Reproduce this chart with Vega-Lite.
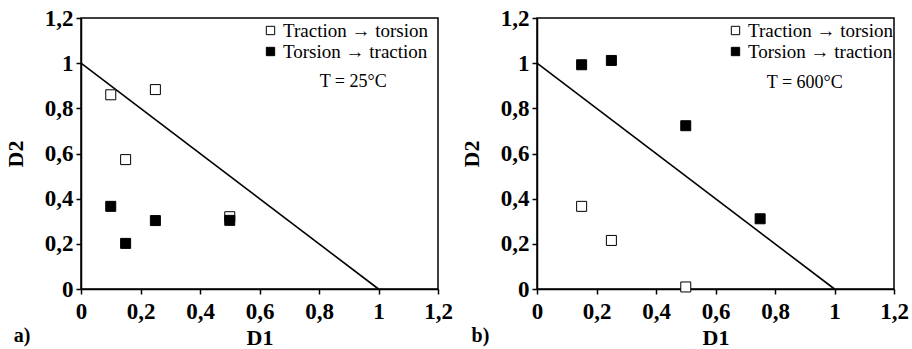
{
  "$schema": "https://vega.github.io/schema/vega-lite/v6.json",
  "background": "white",
  "padding": {"left": 3, "top": 6, "right": 0, "bottom": 0},
  "bounds": "flush",
  "spacing": 99,
  "config": {
    "font": "Liberation Serif",
    "view": {"stroke": "black", "strokeWidth": 1.5},
    "axis": {
      "grid": false,
      "domainColor": "black",
      "domainWidth": 1.5,
      "tickColor": "black",
      "tickWidth": 1.5,
      "tickSize": 5,
      "labelFont": "Liberation Serif",
      "labelFontWeight": "bold",
      "labelFontSize": 23,
      "labelColor": "black",
      "labelPadding": 3,
      "labelFlush": false,
      "labelOverlap": false,
      "titleFont": "Liberation Serif",
      "titleFontWeight": "bold",
      "titleFontSize": 22,
      "titleColor": "black"
    },
    "axisX": {"labelPadding": 6, "titlePadding": 4},
    "axisY": {"titleX": -54},
    "legend": {
      "orient": "none",
      "title": null,
      "padding": 0,
      "labelFont": "Liberation Serif",
      "labelFontSize": 19,
      "labelColor": "black",
      "labelOffset": 3,
      "rowPadding": 1,
      "symbolType": "square",
      "symbolSize": 70,
      "symbolStrokeColor": "black",
      "symbolStrokeWidth": 1
    }
  },
  "datasets": {
    "points": [
      {"panel": "a", "series": "Traction → torsion", "D1": 0.1, "D2": 0.86},
      {"panel": "a", "series": "Traction → torsion", "D1": 0.25, "D2": 0.883},
      {"panel": "a", "series": "Traction → torsion", "D1": 0.15, "D2": 0.573},
      {"panel": "a", "series": "Traction → torsion", "D1": 0.5, "D2": 0.32},
      {"panel": "a", "series": "Torsion → traction", "D1": 0.1, "D2": 0.366},
      {"panel": "a", "series": "Torsion → traction", "D1": 0.15, "D2": 0.202},
      {"panel": "a", "series": "Torsion → traction", "D1": 0.25, "D2": 0.303},
      {"panel": "a", "series": "Torsion → traction", "D1": 0.5, "D2": 0.304},
      {"panel": "b", "series": "Traction → torsion", "D1": 0.15, "D2": 0.366},
      {"panel": "b", "series": "Traction → torsion", "D1": 0.25, "D2": 0.215},
      {"panel": "b", "series": "Traction → torsion", "D1": 0.5, "D2": 0.009},
      {"panel": "b", "series": "Torsion → traction", "D1": 0.15, "D2": 0.993},
      {"panel": "b", "series": "Torsion → traction", "D1": 0.25, "D2": 1.012},
      {"panel": "b", "series": "Torsion → traction", "D1": 0.5, "D2": 0.723},
      {"panel": "b", "series": "Torsion → traction", "D1": 0.75, "D2": 0.311}
    ],
    "boundary": [{"D1": 0, "D2": 1}, {"D1": 1, "D2": 0}]
  },
  "hconcat": [
    {
      "width": 357,
      "height": 271,
      "layer": [
        {
          "data": {"name": "boundary"},
          "mark": {"type": "line", "color": "black", "strokeWidth": 1.6},
          "encoding": {
            "x": {"field": "D1", "type": "quantitative", "scale": {"domain": [0, 1.2], "nice": false, "zero": false}, "axis": {"title": "D1", "values": [0, 0.2, 0.4, 0.6, 0.8, 1, 1.2], "labelExpr": "replace(toString(datum.value), '.', ',')"}},
            "y": {"field": "D2", "type": "quantitative", "scale": {"domain": [0, 1.2], "nice": false, "zero": false}, "axis": {"title": "D2", "values": [0, 0.2, 0.4, 0.6, 0.8, 1, 1.2], "labelExpr": "replace(toString(datum.value), '.', ',')"}}
          }
        },
        {
          "data": {"name": "points"},
          "transform": [{"filter": "datum.panel === 'a'"}],
          "mark": {"type": "point", "shape": "square", "filled": true, "stroke": "black", "strokeWidth": 1, "size": 100, "opacity": 1},
          "encoding": {
            "x": {"field": "D1", "type": "quantitative"},
            "y": {"field": "D2", "type": "quantitative"},
            "fill": {
              "field": "series", "type": "nominal",
              "scale": {"domain": ["Traction → torsion", "Torsion → traction"], "range": ["white", "black"]},
              "legend": {"legendX": 180, "legendY": 3}
            }
          }
        },
        {
          "data": {"values": [{"label": "T = 25°C", "px": 0.915, "py": 0.918}]},
          "mark": {"type": "text", "font": "Liberation Serif", "fontSize": 18, "color": "black"},
          "encoding": {"x": {"field": "px", "type": "quantitative"}, "y": {"field": "py", "type": "quantitative"}, "text": {"field": "label"}}
        },
        {
          "data": {"values": [{"label": "a)", "px": -0.198, "py": -0.21}]},
          "mark": {"type": "text", "font": "Liberation Serif", "fontWeight": "bold", "fontSize": 20, "color": "black"},
          "encoding": {"x": {"field": "px", "type": "quantitative"}, "y": {"field": "py", "type": "quantitative"}, "text": {"field": "label"}}
        }
      ]
    },
    {
      "width": 357,
      "height": 271,
      "layer": [
        {
          "data": {"name": "boundary"},
          "mark": {"type": "line", "color": "black", "strokeWidth": 1.6},
          "encoding": {
            "x": {"field": "D1", "type": "quantitative", "scale": {"domain": [0, 1.2], "nice": false, "zero": false}, "axis": {"title": "D1", "values": [0, 0.2, 0.4, 0.6, 0.8, 1, 1.2], "labelExpr": "replace(toString(datum.value), '.', ',')"}},
            "y": {"field": "D2", "type": "quantitative", "scale": {"domain": [0, 1.2], "nice": false, "zero": false}, "axis": {"title": "D2", "values": [0, 0.2, 0.4, 0.6, 0.8, 1, 1.2], "labelExpr": "replace(toString(datum.value), '.', ',')"}}
          }
        },
        {
          "data": {"name": "points"},
          "transform": [{"filter": "datum.panel === 'b'"}],
          "mark": {"type": "point", "shape": "square", "filled": true, "stroke": "black", "strokeWidth": 1, "size": 100, "opacity": 1},
          "encoding": {
            "x": {"field": "D1", "type": "quantitative"},
            "y": {"field": "D2", "type": "quantitative"},
            "fill": {
              "field": "series", "type": "nominal",
              "scale": {"domain": ["Traction → torsion", "Torsion → traction"], "range": ["white", "black"]},
              "legend": {"legendX": 189, "legendY": 3}
            }
          }
        },
        {
          "data": {"values": [{"label": "T = 600°C", "px": 0.9, "py": 0.913}]},
          "mark": {"type": "text", "font": "Liberation Serif", "fontSize": 18, "color": "black"},
          "encoding": {"x": {"field": "px", "type": "quantitative"}, "y": {"field": "py", "type": "quantitative"}, "text": {"field": "label"}}
        },
        {
          "data": {"values": [{"label": "b)", "px": -0.19, "py": -0.21}]},
          "mark": {"type": "text", "font": "Liberation Serif", "fontWeight": "bold", "fontSize": 20, "color": "black"},
          "encoding": {"x": {"field": "px", "type": "quantitative"}, "y": {"field": "py", "type": "quantitative"}, "text": {"field": "label"}}
        }
      ]
    }
  ],
  "resolve": {"scale": {"fill": "independent"}, "legend": {"fill": "independent"}}
}
